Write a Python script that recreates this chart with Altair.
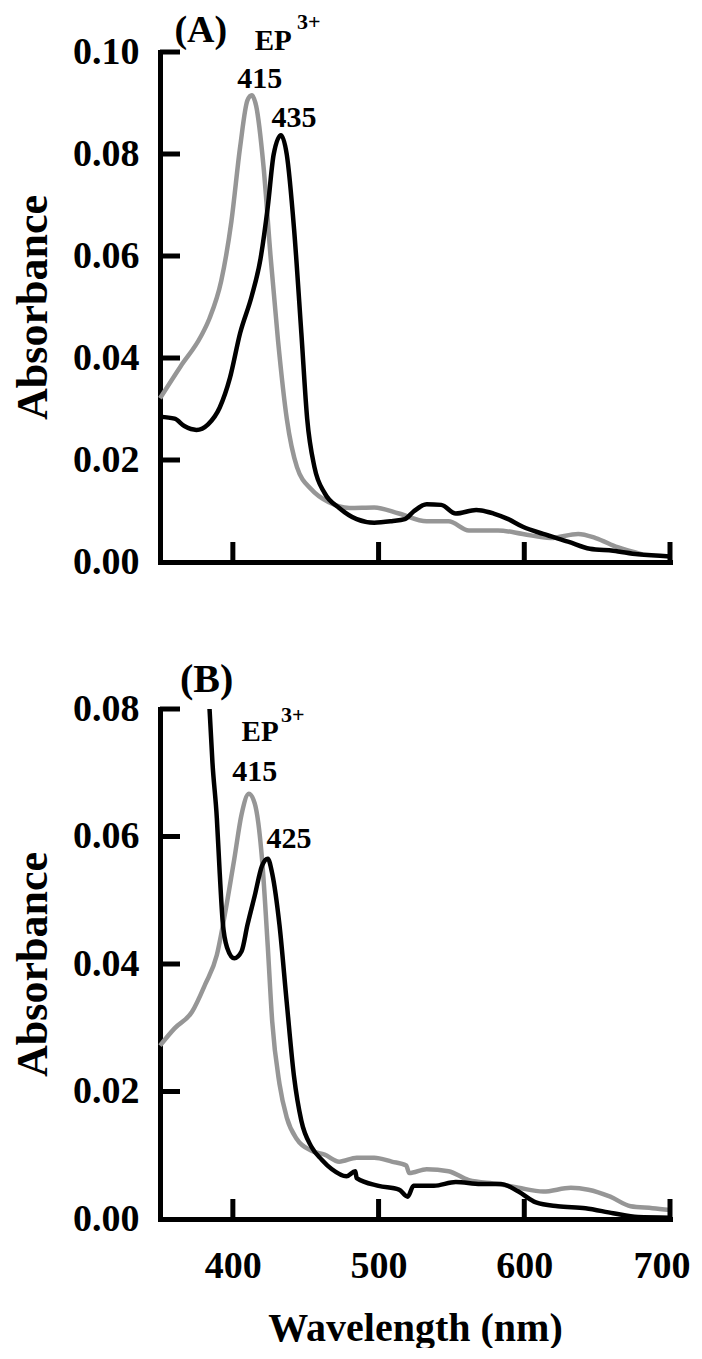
import altair as alt
import pandas as pd

# ---------------- data ----------------
# Panel A
a_gray_nm = [350, 364, 378, 384, 392, 399, 405, 410, 413, 416, 421, 426, 431, 437, 444,
             454, 466, 480, 497, 514, 533, 548, 562, 582, 599, 618, 637, 649, 664, 681]
a_gray_abs = [0.0321, 0.0383, 0.0442, 0.0478, 0.0551, 0.0668, 0.0814, 0.0905, 0.0915, 0.0894,
              0.0777, 0.0595, 0.0434, 0.0281, 0.0186, 0.0142, 0.0117, 0.0106, 0.0107, 0.0095,
              0.0080, 0.0080, 0.0062, 0.0062, 0.0055, 0.0047, 0.0055, 0.0047, 0.0029, 0.0015]
a_black_nm = [350, 360, 367, 375, 383, 391, 398, 405, 413, 419, 424, 428, 433, 437, 442, 447,
              451, 456, 463, 473, 485, 497, 509, 518, 524, 533, 543, 553, 567, 579, 589, 599,
              613, 630, 645, 661, 678, 700]
a_black_abs = [0.0285, 0.0281, 0.0266, 0.0259, 0.0270, 0.0303, 0.0361, 0.0449, 0.0522, 0.0595,
               0.0697, 0.0799, 0.0837, 0.0799, 0.0653, 0.0449, 0.0281, 0.0186, 0.0135, 0.0106,
               0.0084, 0.0077, 0.0080, 0.0084, 0.0099, 0.0113, 0.0112, 0.0095, 0.0102, 0.0095,
               0.0084, 0.0069, 0.0055, 0.0040, 0.0026, 0.0022, 0.0015, 0.0011]

# Panel B
b_gray_nm = [350, 360, 372, 381, 389, 395, 401, 406, 411, 415, 420, 424, 427, 432, 437, 444,
             454, 463, 473, 485, 497, 509, 519, 521, 533, 548, 562, 582, 596, 613, 632, 644,
             659, 673, 688, 700]
b_gray_abs = [0.0272, 0.0299, 0.0325, 0.0368, 0.0414, 0.0484, 0.0565, 0.0635, 0.0667, 0.0652,
              0.0565, 0.0426, 0.0310, 0.0212, 0.0159, 0.0125, 0.0107, 0.0101, 0.0090, 0.0096,
              0.0096, 0.0090, 0.0084, 0.0072, 0.0078, 0.0075, 0.0061, 0.0055, 0.0049, 0.0043,
              0.0049, 0.0046, 0.0035, 0.0020, 0.0017, 0.0014]
b_black_nm = [384, 386, 389, 391, 393, 396, 401, 406, 410, 415, 420, 424, 427, 432, 437, 442,
              447, 454, 461, 468, 478, 484, 485, 500, 514, 520, 524, 538, 553, 570, 584, 596,
              608, 623, 642, 661, 678, 700]
b_black_abs = [0.0800, 0.0716, 0.0629, 0.0542, 0.0467, 0.0426, 0.0409, 0.0420, 0.0461, 0.0507,
               0.0554, 0.0565, 0.0542, 0.0461, 0.0339, 0.0223, 0.0154, 0.0113, 0.0093, 0.0078,
               0.0067, 0.0075, 0.0064, 0.0052, 0.0046, 0.0035, 0.0052, 0.0052, 0.0058, 0.0055,
               0.0055, 0.0043, 0.0026, 0.0020, 0.0017, 0.0009, 0.0003, 0.0002]

x_tick_values = [400, 500, 600, 700]
a_y_ticks = [0.0, 0.02, 0.04, 0.06, 0.08, 0.10]
b_y_ticks = [0.0, 0.02, 0.04, 0.06, 0.08]

# annotations: (text, wavelength, absorbance, size, align)
a_notes = [("(A)", 378, 0.1041, 38, "center"),
           ("EP", 415, 0.1022, 29, "left"),
           ("3+", 444, 0.1058, 22, "left"),
           ("415", 418.5, 0.0947, 30, "center"),
           ("435", 442, 0.0871, 30, "center")]
b_notes = [("(B)", 382, 0.0845, 40, "center"),
           ("EP", 406, 0.0764, 29, "left"),
           ("3+", 433, 0.0790, 22, "left"),
           ("415", 415, 0.0701, 30, "center"),
           ("425", 438.5, 0.0596, 30, "center")]

FONT = "Liberation Serif"
W, H = 510, 510
GRAY = "#969696"


def panel(gray_nm, gray_abs, black_nm, black_abs, yticks, notes, bottom):
    ymax = yticks[-1]
    df = pd.concat([
        pd.DataFrame({"wavelength": gray_nm, "absorbance": gray_abs, "series": "gray"}),
        pd.DataFrame({"wavelength": black_nm, "absorbance": black_abs, "series": "black"}),
    ])
    xaxis = alt.Axis(
        values=x_tick_values, ticks=False, tickSize=0, grid=False,
        labels=bottom, labelFont=FONT, labelFontWeight="bold", labelFontSize=38,
        labelColor="black", labelPadding=28, labelFlush=True, labelFlushOffset=20,
        domainColor="black", domainWidth=5, domainCap="square",
        title="Wavelength (nm)" if bottom else None,
        titleFont=FONT, titleFontWeight="bold", titleFontSize=40, titleColor="black",
        titlePadding=23,
    )
    yaxis = alt.Axis(
        values=yticks, format=".2f", ticks=False, tickSize=0, grid=False,
        labelFont=FONT, labelFontWeight="bold", labelFontSize=38, labelColor="black",
        labelPadding=21, labelFlush=False,
        domainColor="black", domainWidth=5, domainCap="square",
        title="Absorbance", titleFont=FONT, titleFontWeight="bold", titleFontSize=44,
        titleColor="black", titlePadding=17,
    )
    X = alt.X("wavelength:Q", scale=alt.Scale(domain=[350, 700], nice=False, zero=False),
              axis=xaxis)
    Y = alt.Y("absorbance:Q", scale=alt.Scale(domain=[0, ymax], nice=False), axis=yaxis)

    lines = alt.Chart(df).mark_line(strokeWidth=4.5, interpolate="monotone").encode(
        x=X, y=Y,
        color=alt.Color("series:N", scale=alt.Scale(domain=["gray", "black"],
                                                      range=[GRAY, "black"]), legend=None),
        order=alt.Order("wavelength:Q"),
        detail="series:N",
    )
    yt = pd.DataFrame({"absorbance": yticks[1:]})
    ytick_layer = alt.Chart(yt).mark_rule(strokeWidth=5, color="black").encode(
        y=Y, x=alt.value(0), x2=alt.value(20))
    xt = pd.DataFrame({"wavelength": x_tick_values})
    xtick_layer = alt.Chart(xt).mark_rule(strokeWidth=5, color="black").encode(
        x=X, y=alt.value(H), y2=alt.value(H - 20))

    layers = [lines, ytick_layer, xtick_layer]
    for txt, wl, ab, size, align in notes:
        nd = pd.DataFrame({"wavelength": [wl], "absorbance": [ab], "label": [txt]})
        layers.append(alt.Chart(nd).mark_text(
            font=FONT, fontWeight="bold", fontSize=size, color="black",
            align=align, baseline="middle").encode(x=X, y=Y, text="label:N"))
    return alt.layer(*layers).properties(width=W, height=H)


pa = panel(a_gray_nm, a_gray_abs, a_black_nm, a_black_abs, a_y_ticks, a_notes, False)
pb = panel(b_gray_nm, b_gray_abs, b_black_nm, b_black_abs, b_y_ticks, b_notes, True)

chart = alt.vconcat(pa, pb, spacing=147, bounds="flush").properties(
    padding={"left": 3, "top": 3, "right": 0, "bottom": 0}
).configure_view(strokeWidth=0)

chart.save("out.html", embed_options={"renderer": "svg", "actions": False})
